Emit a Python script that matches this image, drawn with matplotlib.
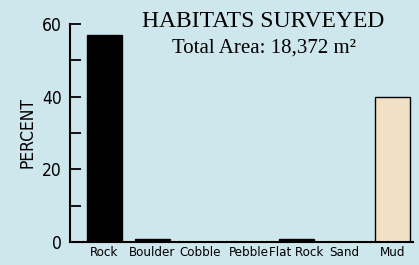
import matplotlib
matplotlib.use('Agg')
import matplotlib.pyplot as plt

categories = ['Rock', 'Boulder', 'Cobble', 'Pebble', 'Flat Rock', 'Sand', 'Mud']
percent = [57, 0.7, 0, 0, 0.7, 0, 40]
colors = ['black', 'black', 'black', 'black', 'black', 'black', '#f1e0c4']
major_ticks = [0, 20, 40, 60]
minor_ticks = [10, 30, 50]

cond = dict(family='DejaVu Sans', stretch='condensed')

bg = '#cee7ed'
fig = plt.figure(figsize=(4.19, 2.65), dpi=100, facecolor=bg)
ax = fig.add_axes([70/419, 23/265, 343/419, 218/265], facecolor=bg)

ax.bar(range(len(categories)), percent, width=0.73, color=colors,
       edgecolor='black', linewidth=1)

ax.set_xlim(-0.72, 6.43)
ax.set_ylim(0, 60)
ax.set_yticks(major_ticks)
ax.set_yticks(minor_ticks, minor=True)
ax.set_xticks(range(len(categories)))
ax.set_xticklabels(categories, fontsize=9.5, **cond)
ax.set_yticklabels([str(t) for t in major_ticks], fontsize=12.5, **cond)
ax.tick_params(axis='y', which='both', direction='in', length=8, width=1.3, pad=6)
ax.tick_params(axis='x', length=0, pad=3)

for s in ['top', 'right']:
    ax.spines[s].set_visible(False)
for s in ['left', 'bottom']:
    ax.spines[s].set_linewidth(1.5)

ax.set_ylabel('PERCENT', fontsize=12.5, labelpad=4, **cond)

fig.text(263/419, 1 - 27/265, 'HABITATS SURVEYED', ha='center', va='baseline',
         fontsize=17, family='Liberation Serif')
fig.text(264/419, 1 - 53/265, 'Total Area: 18,372 m²', ha='center', va='baseline',
         fontsize=15, family='Liberation Serif')

fig.savefig('out.png', dpi=100, facecolor=bg)
